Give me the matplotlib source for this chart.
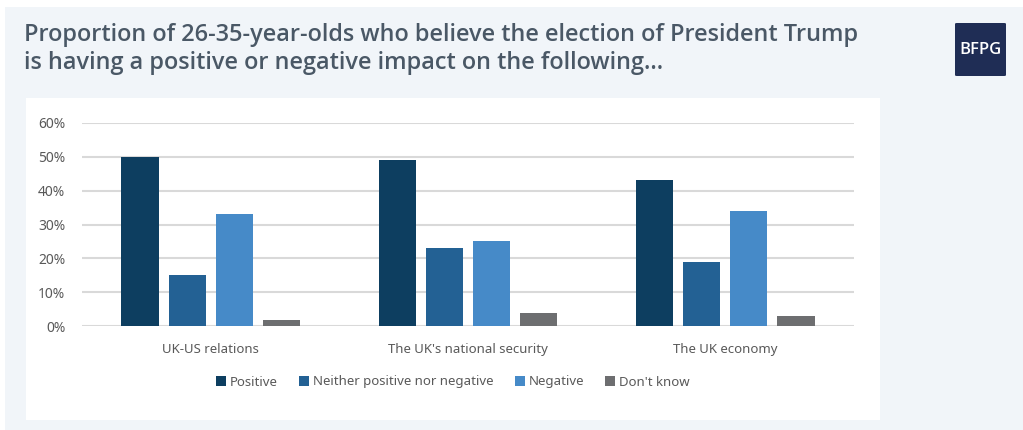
import numpy as np
import matplotlib
matplotlib.use("Agg")
import matplotlib.pyplot as plt
from matplotlib.patches import Rectangle, FancyBboxPatch, Patch
from matplotlib.ticker import FuncFormatter

categories = ["UK-US relations", "The UK's national security", "The UK economy"]
series_names = ["Positive", "Neither positive nor negative", "Negative", "Don't know"]
positive = [50, 49, 43]
neither = [15, 23, 19]
negative = [33, 25, 34]
dont_know = [2, 4, 3]
title = ("Proportion of 26-35-year-olds who believe the election of President Trump\n"
         "is having a positive or negative impact on the following...")

colors = ["#0d3e60", "#236194", "#468ac8", "#6d6e70"]
W, H = 1023, 430

fig = plt.figure(figsize=(W / 100, H / 100), dpi=100)
fig.patch.set_facecolor("white")

def box(x0, y0, x1, y1, color):
    # pixel coords, y from top
    fig.patches.append(Rectangle((x0 / W, 1 - y1 / H), (x1 - x0) / W, (y1 - y0) / H,
                                 transform=fig.transFigure, facecolor=color,
                                 edgecolor="none", zorder=-10))

box(5, 7, W, H, "#f1f5f9")
box(26, 98, 880, 420, "white")

# logo
fig.patches.append(FancyBboxPatch((955 / W, 1 - 76 / H), 51 / W, 53 / H,
                                  boxstyle="round,pad=0,rounding_size=0.002",
                                  transform=fig.transFigure, facecolor="#1f2d55",
                                  edgecolor="none", zorder=-5))
fig.text(980.5 / W, 1 - 49.5 / H, "BFPG", color="white", fontsize=12,
         family="Open Sans", fontweight="semibold", ha="center", va="center")

fig.text(24 / W, 1 - 23 / H, title, fontsize=16.9, family="Open Sans",
         fontweight="semibold", color="#4a5866", ha="left", va="top",
         linespacing=1.22)

ax = fig.add_axes([82 / W, 1 - 326.3 / H, (854 - 82) / W, (326.3 - 122.7) / H])
ax.set_facecolor("none")

data = [positive, neither, negative, dont_know]
x = np.arange(len(categories))
bw = 0.145
step = 0.1827
for i, vals in enumerate(data):
    ax.bar(x + (i - 1.5) * step, vals, width=bw, color=colors[i], zorder=3)

ax.set_xlim(-0.5, 2.5)
ax.set_ylim(0, 60)
ax.set_yticks(np.arange(0, 61, 10))
ax.yaxis.set_major_formatter(FuncFormatter(lambda v, p: f"{v:.0f}%"))
ax.set_xticks(x)
ax.set_xticklabels(categories)
ax.grid(axis="y", color="#d9d9d9", linewidth=1.5, zorder=0)
for s in ax.spines.values():
    s.set_visible(False)
ax.tick_params(length=0, labelsize=10, labelcolor="#595959")
ax.tick_params(axis="y", pad=12)
ax.tick_params(axis="x", pad=12, labelsize=9.5)
for lab in ax.get_xticklabels() + ax.get_yticklabels():
    lab.set_family("Noto Sans")

handles = [Patch(facecolor=c, edgecolor="none") for c in colors]
leg = fig.legend(handles, series_names, loc="center", bbox_to_anchor=(453 / W, 1 - 382 / H),
                 ncol=4, frameon=False, handlelength=0.75, handleheight=0.75,
                 handletextpad=0.3, columnspacing=1.6,
                 prop={"family": "Noto Sans", "size": 9.5})
for t in leg.get_texts():
    t.set_color("#595959")

fig.savefig("out.png", dpi=100, facecolor=fig.get_facecolor())
